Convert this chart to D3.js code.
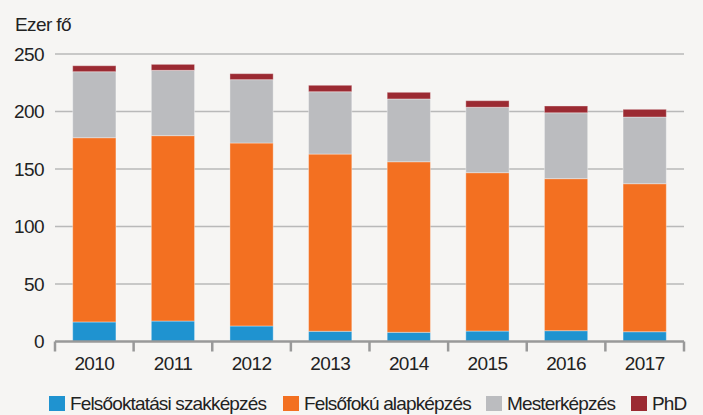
<!DOCTYPE html>
<html>
<head>
<meta charset="utf-8">
<script src="https://cdn.jsdelivr.net/npm/d3@7"></script>
<style>
  body { margin: 0; background: #f6f5f3; }
  svg { display: block; }
  text { font-family: "Liberation Sans", Arial, sans-serif; fill: #222; }
</style>
</head>
<body>
<div id="chart"></div>
<script>
var years = ["2010", "2011", "2012", "2013", "2014", "2015", "2016", "2017"]
var seriesNames = ["Felsőoktatási szakképzés", "Felsőfokú alapképzés", "Mesterképzés", "PhD"]
var seriesColors = ["#1f93d0", "#f37021", "#bbbcbf", "#9b2a32"]
// cumulative tops, converted to segment values
var szakkepzes = [17.0, 17.8, 13.5, 8.9, 8.0, 9.1, 9.4, 8.5]
var alapkepzes = [160.2, 161.2, 159.1, 154.1, 148.3, 137.7, 132.2, 128.7]
var mesterkepzes = [57.4, 56.8, 55.1, 54.2, 54.6, 56.9, 57.3, 58.0]
var phd = [5.2, 5.2, 5.2, 5.6, 5.8, 5.7, 5.9, 6.7]
var yTicks = [0, 50, 100, 150, 200, 250]

var W = 703, H = 415
var MARGIN = {TOP: 54, RIGHT: 19, BOTTOM: 73.5, LEFT: 55}
var WIDTH = W - MARGIN.LEFT - MARGIN.RIGHT,
  HEIGHT = H - MARGIN.TOP - MARGIN.BOTTOM

var svg = d3.select("#chart").append("svg")
  .attr("width", W)
  .attr("height", H)

svg.append("rect").attr("width", W).attr("height", H).attr("fill", "#f6f5f3")

var g = svg.append("g")
  .attr("transform", "translate(" + MARGIN.LEFT + "," + MARGIN.TOP + ")")

var table = years.map(function(y, i) {
  return {year: y, s0: szakkepzes[i], s1: alapkepzes[i], s2: mesterkepzes[i], s3: phd[i]}
})

var xScale = d3.scaleBand()
  .domain(years)
  .range([0, WIDTH])
  .paddingInner(0.45)
  .paddingOuter(0.225)

var yScale = d3.scaleLinear()
  .domain([0, 250])
  .range([HEIGHT, 0])

// gridlines
g.selectAll(".grid")
  .data(yTicks.filter(function(d) { return d > 0 }))
  .enter().append("line")
  .attr("x1", 0)
  .attr("x2", WIDTH)
  .attr("y1", function(d) { return yScale(d) })
  .attr("y2", function(d) { return yScale(d) })
  .style("stroke", "#b9b9b9")
  .style("stroke-width", "1.5px")

// y labels
g.selectAll(".ylab")
  .data(yTicks)
  .enter().append("text")
  .attr("x", -11)
  .attr("y", function(d) { return yScale(d) })
  .attr("dy", "0.36em")
  .attr("text-anchor", "end")
  .style("font-size", "19px")
  .style("letter-spacing", "-0.6px")
  .text(function(d) { return d })

var stack = d3.stack().keys(["s0", "s1", "s2", "s3"])
var layers = stack(table)

g.selectAll(".layer")
  .data(layers)
  .enter().append("g")
  .attr("fill", function(d, i) { return seriesColors[i] })
  .selectAll("rect")
  .data(function(d) { return d })
  .enter().append("rect")
  .attr("x", function(d) { return xScale(d.data.year) })
  .attr("width", xScale.bandwidth())
  .attr("y", function(d) { return yScale(d[1]) })
  .attr("height", function(d) { return yScale(d[0]) - yScale(d[1]) })
  .style("stroke", "rgba(255,255,255,0.35)")
  .style("stroke-width", "1px")

// x axis
var xAxis = d3.axisBottom(xScale).tickSize(0).tickPadding(15)
var axisG = g.append("g")
  .attr("transform", "translate(0," + HEIGHT + ")")
  .call(xAxis)
axisG.select(".domain").remove()
axisG.selectAll("text")
  .style("font-size", "19px")
  .style("letter-spacing", "-0.6px")
  .style("font-family", "Liberation Sans, Arial, sans-serif")
  .attr("fill", "#222")

axisG.append("line")
  .attr("x1", 0).attr("x2", WIDTH)
  .attr("y1", 0).attr("y2", 0)
  .style("stroke", "#999")
  .style("stroke-width", "2.5px")

var step = xScale.step()
axisG.selectAll(".xtick")
  .data(d3.range(years.length + 1))
  .enter().append("line")
  .attr("x1", function(d) { return d * step })
  .attr("x2", function(d) { return d * step })
  .attr("y1", 0)
  .attr("y2", 10)
  .style("stroke", "#999")
  .style("stroke-width", "2.5px")

// title
svg.append("text")
  .attr("x", 15)
  .attr("y", 31)
  .style("font-size", "19px")
  .style("letter-spacing", "-0.6px")
  .text("Ezer fő")

// legend
var legendX = [49, 283, 486, 631]
var legend = svg.selectAll(".legend")
  .data(seriesNames)
  .enter().append("g")
  .attr("transform", function(d, i) { return "translate(" + legendX[i] + ",396)" })
legend.append("rect")
  .attr("width", 16)
  .attr("height", 15)
  .attr("fill", function(d, i) { return seriesColors[i] })
legend.append("text")
  .attr("x", 21)
  .attr("y", 14)
  .style("font-size", "19px")
  .style("letter-spacing", "-0.85px")
  .text(function(d) { return d })
</script>
</body>
</html>
